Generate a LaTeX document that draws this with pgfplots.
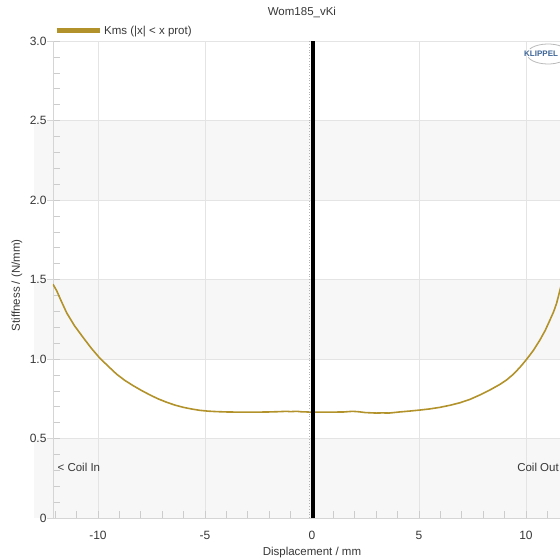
\documentclass[border=0pt]{standalone}
\usepackage{pgfplots}
\pgfplotsset{compat=1.18}
\usepackage{fontspec}
\setmainfont{Liberation Sans}
\definecolor{kms}{RGB}{178,146,42}
\definecolor{gridc}{RGB}{228,228,228}
\definecolor{bandc}{RGB}{247,247,247}
\definecolor{txt}{RGB}{55,55,55}
\definecolor{klip}{RGB}{60,100,150}
\newcommand{\fs}{\fontsize{11.5}{13}\selectfont}
\begin{document}
\begin{tikzpicture}
\begin{axis}[
  set layers,
  at={(0pt,0pt)}, anchor=south west,
  scale only axis, width=507pt, height=477pt,
  xmin=-12.1, xmax=11.59, ymin=0, ymax=3,
  axis x line*=bottom, axis y line*=left,
  axis line style={gridc!85!gray, line width=0.8pt, -},
  xtick={-10,-5,0,5,10}, xticklabels={-10,-5,0,5,10},
  ytick={0,0.5,1,1.5,2,2.5,3}, yticklabels={0,0.5,1.0,1.5,2.0,2.5,3.0},
  minor xtick={-12,-11,-10,-9,-8,-7,-6,-5,-4,-3,-2,-1,0,1,2,3,4,5,6,7,8,9,10,11},
  minor ytick={0,0.1,0.2,0.3,0.4,0.5,0.6,0.7,0.8,0.9,1,1.1,1.2,1.3,1.4,1.5,1.6,1.7,1.8,1.9,2,2.1,2.2,2.3,2.4,2.5,2.6,2.7,2.8,2.9,3},
  tick align=inside, major tick length=0pt, minor tick length=7pt,
  minor tick style={gray!40, line width=0.6pt},
  grid=major, major grid style={gridc, line width=0.8pt},
  extra y ticks={0,0.5,1,1.5,2,2.5,3}, extra y tick labels={},
  extra y tick style={grid=none, tick align=outside, major tick length=6pt,
     major tick style={gridc!85!gray, line width=0.8pt}},
  ticklabel style={font=\fontsize{12}{14}\selectfont, text=txt},
  xticklabel style={yshift=-10pt},
  yticklabel style={xshift=-3pt},
  xlabel={Displacement / mm}, ylabel={Stiffness / (N/mm)},
  xlabel style={at={(axis cs:0,0)}, anchor=center, yshift=-35pt, font=\fs, text=txt},
  ylabel style={at={(axis description cs:-0.071,0.488)}, anchor=center, font=\fs, text=txt},
  title={Wom185\_vKi},
  title style={at={(axis description cs:0.491,1)}, anchor=center, yshift=23pt, font=\fs, text=txt},
  legend style={at={(axis description cs:0,1)}, anchor=south west, draw=none, fill=none,
     font=\fs, text=txt, inner sep=0pt, xshift=1pt, yshift=3pt},
  legend image code/.code={\draw[kms, line width=5pt] (0pt,0pt) -- (43pt,0pt);},
]
\begin{pgfonlayer}{axis background}
\fill[bandc] (axis cs:-13,0) rectangle (axis cs:13,0.5);
\fill[bandc] (axis cs:-13,1) rectangle (axis cs:13,1.5);
\fill[bandc] (axis cs:-13,2) rectangle (axis cs:13,2.5);
\end{pgfonlayer}
\addplot[kms, line width=1.6pt] coordinates {
(-12.1,1.47) (-11.93,1.43) (-11.7,1.36) (-11.46,1.29) (-11.1,1.21) (-10.69,1.135)
(-10.3,1.066) (-9.91,1.005) (-9.5,0.952) (-9.13,0.905) (-8.75,0.866) (-8.35,0.832)
(-7.95,0.801) (-7.57,0.774) (-7.2,0.750) (-6.79,0.728) (-6.4,0.710) (-6.01,0.696)
(-5.6,0.685) (-5.23,0.677) (-4.85,0.672) (-4.45,0.669) (-4.0,0.667) (-3.5,0.666)
(-3.0,0.666) (-2.5,0.666) (-2.0,0.667) (-1.5,0.669) (-1.2,0.671) (-1.0,0.669)
(-0.7,0.671) (-0.5,0.668) (0,0.666) (0.5,0.666) (1.0,0.666) (1.5,0.667)
(1.9,0.671) (2.2,0.668) (2.5,0.663) (3.0,0.660) (3.3,0.661) (3.6,0.660)
(4.1,0.667) (4.6,0.673) (5.05,0.679) (5.5,0.686) (5.98,0.696) (6.45,0.709)
(6.92,0.725) (7.4,0.747) (7.85,0.774) (8.3,0.804) (8.79,0.841) (9.1,0.869)
(9.41,0.904) (9.72,0.948) (10.03,0.998) (10.35,1.055) (10.65,1.119) (10.9,1.18)
(11.12,1.245) (11.3,1.30) (11.43,1.350) (11.59,1.434) (11.8,1.55)
};
\addlegendentry{Kms (|x| < x prot)}
\addplot[gray!60, dotted, line width=0.8pt, forget plot] coordinates {(-0.13,0) (-0.13,3)};
\addplot[black, line width=3.5pt, forget plot] coordinates {(0.05,0) (0.05,3)};
\node[anchor=west, font=\fs, text=txt] at (axis cs:-12.05,0.32) {< Coil In};
\node[anchor=east, font=\fs, text=txt, inner xsep=1pt] at (axis cs:11.59,0.32) {Coil Out};
\end{axis}
\node[anchor=west, font=\fontsize{8}{9}\selectfont\bfseries, text=klip, inner sep=0pt] at (471pt,464pt) {KLIPPEL};
\draw[gray!55, line width=0.8pt] (495pt,464pt) ++(150:21pt and 10pt) arc[start angle=150, end angle=20, x radius=21pt, y radius=10pt];
\draw[gray!55, line width=0.8pt] (495pt,464pt) ++(200:21pt and 10pt) arc[start angle=200, end angle=320, x radius=21pt, y radius=10pt];
\pgfresetboundingbox
\path[use as bounding box] (-53pt,-40pt) rectangle (507pt,518pt);
\end{tikzpicture}
\end{document}
